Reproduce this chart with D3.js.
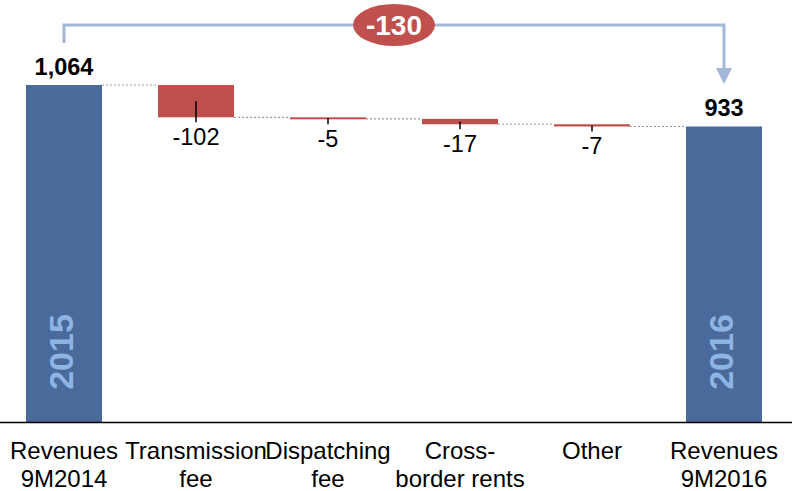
<!DOCTYPE html>
<html>
<head>
    <meta charset="utf-8">
    <title>Revenues bridge</title>
    <script src="https://d3js.org/d3.v7.min.js"></script>
    <style>
        body { margin: 0; background: #fff; font-family: Arial, 'Liberation Sans', sans-serif; }
        svg { display: block; }
    </style>
</head>
<body>
    <div id="chart"></div>
    <script>
        const categories = [['Revenues', '9M2014'], ['Transmission', 'fee'], ['Dispatching', 'fee'], ['Cross-', 'border rents'], ['Other'], ['Revenues', '9M2016']]
        const values = [1064, -102, -5, -17, -7, 933]
        const totals = [true, false, false, false, false, true]
        const valueLabels = ['1,064', '-102', '-5', '-17', '-7', '933']
        const yearLabels = ['2015', null, null, null, null, '2016']
        const changeLabel = '-130'

        const w = 792, h = 491
        const blue = '#4a6a9b', red = '#c0504d', light = '#8db4e2', bracket = '#a3b7d8'

        // running start / end of each bar
        let running = 0
        const bars = values.map((v, i) => {
            let lo, hi
            if (totals[i]) { lo = 0; hi = v; running = v }
            else { hi = running; lo = running + v; running = lo }
            return { i, v, lo, hi, total: totals[i] }
        })

        const svg = d3.select('#chart').append('svg').attr('width', w).attr('height', h)

        const x = d3.scaleBand()
            .domain(d3.range(categories.length))
            .range([-2, 790])
            .paddingInner(0.424)
            .paddingOuter(0.212)

        const y = d3.scaleLinear().domain([0, 1064]).range([422, 85])
        const cx = i => x(i) + x.bandwidth() / 2

        // connectors
        svg.selectAll('line.conn')
            .data(bars.slice(0, -1))
            .enter().append('line')
            .attr('class', 'conn')
            .attr('x1', d => x(d.i) + x.bandwidth())
            .attr('x2', d => x(d.i + 1))
            .attr('y1', d => d.total ? y(d.hi) : y(d.lo))
            .attr('y2', d => d.total ? y(d.hi) : y(d.lo))
            .attr('stroke', '#9a9a9a')
            .attr('stroke-width', 1.2)
            .attr('stroke-dasharray', '2,2')

        svg.selectAll('rect.bar')
            .data(bars)
            .enter().append('rect')
            .attr('class', 'bar')
            .attr('x', d => x(d.i))
            .attr('width', x.bandwidth())
            .attr('y', d => y(d.hi))
            .attr('height', d => Math.max(2, y(d.lo) - y(d.hi)))
            .attr('fill', d => d.total ? blue : red)

        // little leader ticks on the red bars
        const deltas = bars.filter(d => !d.total)
        svg.selectAll('line.tick')
            .data(deltas)
            .enter().append('line')
            .attr('x1', d => cx(d.i)).attr('x2', d => cx(d.i))
            .attr('y1', d => (y(d.lo) + y(d.hi)) / 2)
            .attr('y2', d => Math.max(y(d.lo), y(d.hi) + 2) + 5)
            .attr('stroke', '#000')
            .attr('stroke-width', 1.5)

        // value labels
        svg.selectAll('text.val')
            .data(bars)
            .enter().append('text')
            .attr('x', d => cx(d.i))
            .attr('y', d => d.total ? y(d.hi) - 10 : Math.max(y(d.lo), y(d.hi) + 2) + 28)
            .attr('text-anchor', 'middle')
            .attr('font-size', '23.5px')
            .attr('font-weight', d => d.total ? 'bold' : 'normal')
            .attr('fill', '#000')
            .text(d => valueLabels[d.i])

        // year labels inside total bars
        svg.selectAll('text.year')
            .data(bars.filter(d => yearLabels[d.i]))
            .enter().append('text')
            .attr('transform', d => `translate(${cx(d.i) + 9},352) rotate(-90)`)
            .attr('text-anchor', 'middle')
            .attr('font-size', '34px')
            .attr('font-weight', 'bold')
            .attr('fill', light)
            .text(d => yearLabels[d.i])

        // axis line
        svg.append('line')
            .attr('x1', 0).attr('x2', w)
            .attr('y1', 422.5).attr('y2', 422.5)
            .attr('stroke', '#000').attr('stroke-width', 1.5)

        // category labels
        const cat = svg.selectAll('text.cat')
            .data(categories)
            .enter().append('text')
            .attr('text-anchor', 'middle')
            .attr('font-size', '24px')
            .attr('fill', '#000')
        cat.selectAll('tspan')
            .data((d, i) => d.map(t => ({ t, i })))
            .enter().append('tspan')
            .attr('x', d => cx(d.i))
            .attr('y', (d, j) => 459 + j * 28)
            .text(d => d.t)

        // top bracket with arrow
        const x0 = cx(0), x1 = cx(5), bracketY = 25
        svg.append('path')
            .attr('d', `M${x0},43 V${bracketY} H${x1} V70`)
            .attr('fill', 'none')
            .attr('stroke', bracket)
            .attr('stroke-width', 3)
        svg.append('path')
            .attr('d', `M${x1 - 8},68 L${x1 + 8},68 L${x1},84 Z`)
            .attr('fill', bracket)

        svg.append('ellipse')
            .attr('cx', (x0 + x1) / 2).attr('cy', bracketY)
            .attr('rx', 41).attr('ry', 21)
            .attr('fill', red)
        svg.append('text')
            .attr('x', (x0 + x1) / 2).attr('y', bracketY + 10)
            .attr('text-anchor', 'middle')
            .attr('font-size', '28px')
            .attr('font-weight', 'bold')
            .attr('fill', '#fff')
            .text(changeLabel)
    </script>
</body>
</html>
